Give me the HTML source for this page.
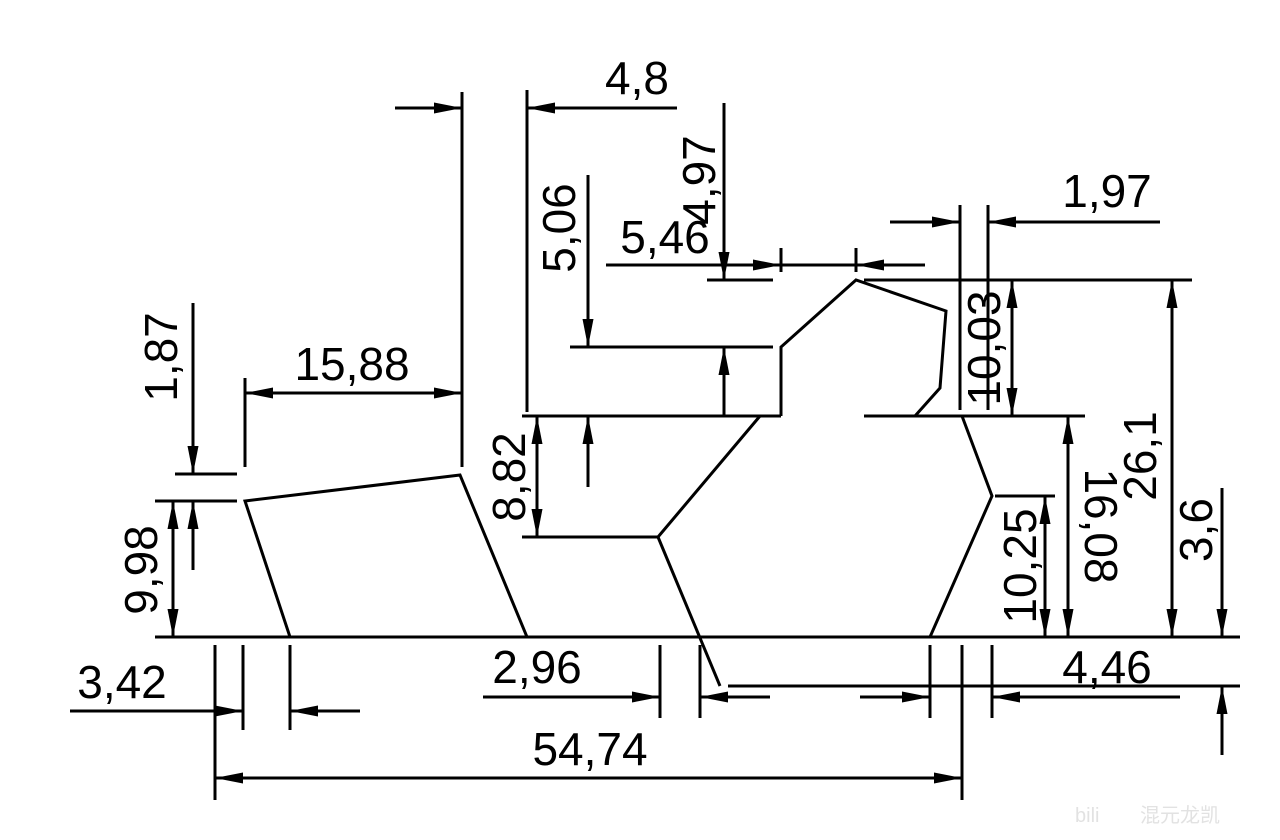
<!DOCTYPE html>
<html><head><meta charset="utf-8"><style>
html,body{margin:0;padding:0;background:#fff;}
svg{display:block;}
text{font-family:"Liberation Sans",sans-serif;font-size:46px;fill:#000;}
</style></head><body>
<svg width="1280" height="840" viewBox="0 0 1280 840" xmlns="http://www.w3.org/2000/svg">
<defs>
<marker id="a" viewBox="0 0 28 11" refX="28" refY="5.5" markerWidth="28" markerHeight="11" markerUnits="userSpaceOnUse" orient="auto-start-reverse">
<path d="M0,0 L28,5.5 L0,11 Z" fill="#000"/>
</marker>
</defs>
<g stroke="#000" stroke-width="3" fill="none" stroke-linecap="butt">
<line x1="155" y1="637" x2="1240" y2="637"/>
<polyline points="290,637 245,501 460,475 527,637"/>
<polyline points="522,537 658,537 760,416"/>
<line x1="658" y1="537" x2="720" y2="686"/>
<line x1="522" y1="416" x2="781" y2="416"/>
<polyline points="781,416 781,347 856,280 946,311 940,388 915,416"/>
<line x1="864" y1="416" x2="1085" y2="416"/>
<polyline points="962,416 992,496 930,637"/>
<line x1="728" y1="686" x2="1240" y2="686"/>
<line x1="864" y1="280" x2="1192" y2="280"/>
<line x1="570" y1="347" x2="773" y2="347"/>
<line x1="707" y1="280" x2="773" y2="280"/>
<line x1="995" y1="496" x2="1055" y2="496"/>

<line x1="462" y1="92" x2="462" y2="467"/>
<line x1="527" y1="90" x2="527" y2="412"/>
<line x1="395" y1="108" x2="462" y2="108" marker-end="url(#a)"/>
<line x1="677" y1="108" x2="527" y2="108" marker-end="url(#a)"/>
<line x1="724" y1="103" x2="724" y2="280" marker-end="url(#a)"/>
<line x1="724" y1="416" x2="724" y2="347" marker-end="url(#a)"/>
<line x1="588" y1="175" x2="588" y2="347" marker-end="url(#a)"/>
<line x1="588" y1="487" x2="588" y2="416" marker-end="url(#a)"/>
<line x1="606" y1="265" x2="781" y2="265" marker-end="url(#a)"/>
<line x1="925" y1="265" x2="856" y2="265" marker-end="url(#a)"/>
<line x1="781" y1="265" x2="856" y2="265"/>
<line x1="781" y1="248" x2="781" y2="272"/>
<line x1="856" y1="248" x2="856" y2="272"/>
<line x1="960" y1="205" x2="960" y2="410"/>
<line x1="988" y1="205" x2="988" y2="410"/>
<line x1="890" y1="222" x2="960" y2="222" marker-end="url(#a)"/>
<line x1="1160" y1="222" x2="988" y2="222" marker-end="url(#a)"/>
<line x1="1012" y1="280" x2="1012" y2="416" marker-start="url(#a)" marker-end="url(#a)"/>
<line x1="1172" y1="280" x2="1172" y2="637" marker-start="url(#a)" marker-end="url(#a)"/>
<line x1="1068" y1="416" x2="1068" y2="637" marker-start="url(#a)" marker-end="url(#a)"/>
<line x1="1045" y1="496" x2="1045" y2="637" marker-start="url(#a)" marker-end="url(#a)"/>
<line x1="1222" y1="488" x2="1222" y2="637" marker-end="url(#a)"/>
<line x1="1222" y1="755" x2="1222" y2="686" marker-end="url(#a)"/>
<line x1="175" y1="474" x2="237" y2="474"/>
<line x1="155" y1="501" x2="237" y2="501"/>
<line x1="193" y1="303" x2="193" y2="474" marker-end="url(#a)"/>
<line x1="193" y1="570" x2="193" y2="501" marker-end="url(#a)"/>
<line x1="173" y1="501" x2="173" y2="637" marker-start="url(#a)" marker-end="url(#a)"/>
<line x1="245" y1="378" x2="245" y2="467"/>
<line x1="245" y1="393" x2="462" y2="393" marker-start="url(#a)" marker-end="url(#a)"/>
<line x1="537" y1="416" x2="537" y2="537" marker-start="url(#a)" marker-end="url(#a)"/>
<line x1="215" y1="645" x2="215" y2="800"/>
<line x1="243" y1="645" x2="243" y2="730"/>
<line x1="290" y1="645" x2="290" y2="730"/>
<line x1="70" y1="711" x2="243" y2="711" marker-end="url(#a)"/>
<line x1="360" y1="711" x2="290" y2="711" marker-end="url(#a)"/>
<line x1="660" y1="645" x2="660" y2="718"/>
<line x1="700" y1="645" x2="700" y2="718"/>
<line x1="483" y1="697" x2="660" y2="697" marker-end="url(#a)"/>
<line x1="770" y1="697" x2="700" y2="697" marker-end="url(#a)"/>
<line x1="930" y1="645" x2="930" y2="718"/>
<line x1="962" y1="645" x2="962" y2="800"/>
<line x1="992" y1="645" x2="992" y2="718"/>
<line x1="860" y1="697" x2="930" y2="697" marker-end="url(#a)"/>
<line x1="1180" y1="697" x2="992" y2="697" marker-end="url(#a)"/>
<line x1="215" y1="778" x2="962" y2="778" marker-start="url(#a)" marker-end="url(#a)"/>
</g>

<g text-anchor="middle">
<text x="637" y="94">4,8</text>
<text x="665" y="253">5,46</text>
<text x="1107" y="207">1,97</text>
<text x="352" y="380">15,88</text>
<text x="122" y="698">3,42</text>
<text x="537" y="683">2,96</text>
<text x="1107" y="683">4,46</text>
<text x="590" y="765">54,74</text>
<text transform="translate(715,180) rotate(-90)">4,97</text>
<text transform="translate(575,228) rotate(-90)">5,06</text>
<text transform="translate(177,357) rotate(-90)">1,87</text>
<text transform="translate(157,570) rotate(-90)">9,98</text>
<text transform="translate(525,477) rotate(-90)">8,82</text>
<text transform="translate(1000,348) rotate(-90)">10,03</text>
<text transform="translate(1156,456) rotate(-90)">26,1</text>
<text transform="translate(1212,530) rotate(-90)">3,6</text>
<text transform="translate(1036,566) rotate(-90)">10,25</text>
<text transform="translate(1085,526) rotate(90)">16,08</text>
</g>
<text x="1075" y="822" style="font-size:20px;fill:#e2e2e2;">bili</text>
<text x="1140" y="822" style="font-size:20px;fill:#e2e2e2;font-family:'Liberation Sans','Noto Sans CJK SC',sans-serif;">混元龙凯</text>
</svg>
</body></html>
